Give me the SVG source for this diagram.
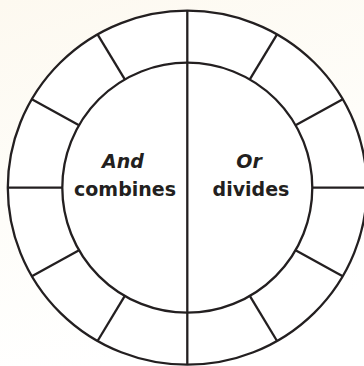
<svg xmlns="http://www.w3.org/2000/svg" width="364" height="366" viewBox="0 0 364 366">
  <defs>
    <linearGradient id="bg" x1="0" y1="0" x2="0.3" y2="1">
      <stop offset="0" stop-color="#fdf9f0"/>
      <stop offset="0.55" stop-color="#fefdf9"/>
      <stop offset="1" stop-color="#ffffff"/>
    </linearGradient>
  </defs>
  <style>
    .ln { stroke: #231f20; stroke-width: 2.3; fill: none; }
    .fillw { fill: #ffffff; stroke: #231f20; stroke-width: 2.3; }
    .lbl { font-family: "DejaVu Sans", "Open Sans", sans-serif; font-weight: bold; font-size: 19px; fill: #231f20; text-anchor: middle; }
    .it { font-style: italic; }
  </style>
  <rect x="0" y="0" width="364" height="366" fill="url(#bg)"/>
  <g id="outer-ring">
    <ellipse class="fillw" cx="187.3" cy="187.7" rx="179.5" ry="177"/>
  </g>
  <g id="inner-circle">
    <circle class="fillw" cx="187.3" cy="187.7" r="125"/>
  </g>
  <g id="connectors">
    <line class="ln" x1="187.3" y1="10.7" x2="187.3" y2="364.7"/>
    <line class="ln" x1="312.3" y1="187.7" x2="366.8" y2="187.7"/>
    <line class="ln" x1="62.3" y1="187.7" x2="7.8" y2="187.7"/>
    <line class="ln" x1="295.55" y1="250.2" x2="342.75" y2="276.2"/>
    <line class="ln" x1="249.8" y1="295.95" x2="277.05" y2="341.0"/>
    <line class="ln" x1="124.8" y1="295.95" x2="97.55" y2="341.0"/>
    <line class="ln" x1="79.05" y1="250.2" x2="31.85" y2="276.2"/>
    <line class="ln" x1="79.05" y1="125.2" x2="31.85" y2="99.2"/>
    <line class="ln" x1="124.8" y1="79.45" x2="97.55" y2="34.4"/>
    <line class="ln" x1="249.8" y1="79.45" x2="277.05" y2="34.4"/>
    <line class="ln" x1="295.55" y1="125.2" x2="342.75" y2="99.2"/>
  </g>
  <g id="and-label">
    <text class="lbl it" x="123" y="168">And</text>
    <text class="lbl" x="125" y="196">combines</text>
  </g>
  <g id="or-label">
    <text class="lbl it" x="249" y="168">Or</text>
    <text class="lbl" x="251" y="196">divides</text>
  </g>
</svg>
